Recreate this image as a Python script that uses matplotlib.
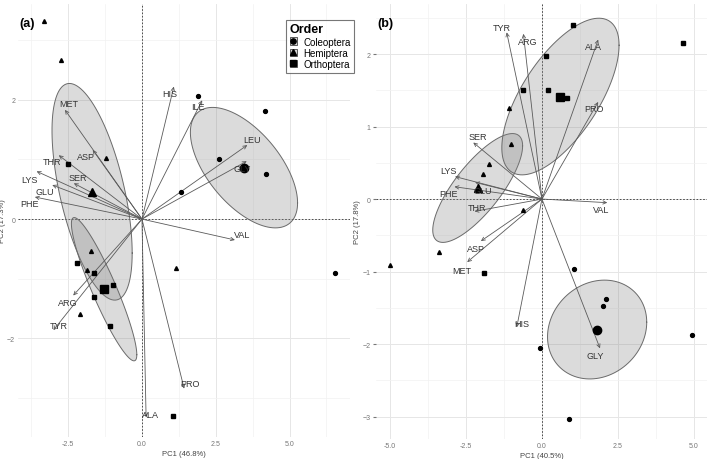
import numpy as np
import matplotlib
matplotlib.use("Agg")
import matplotlib.pyplot as plt
from matplotlib.lines import Line2D
from matplotlib.patches import Rectangle
from matplotlib.legend_handler import HandlerTuple

plt.rcParams["font.family"] = ["Liberation Sans", "DejaVu Sans"]

# --- data ---

orders = ["Coleoptera", "Hemiptera", "Orthoptera"]

# (a) sample scores per order
a_cole_x = [1.90, 4.17, 2.61, 4.20, 1.32, 6.54]
a_cole_y = [2.06, 1.81, 1.00, 0.75, 0.45, -0.90]
a_hemi_x = [-3.32, -2.75, -1.22, 1.15, -1.73, -1.86, -2.10]
a_hemi_y = [3.32, 2.66, 1.02, -0.82, -0.54, -0.85, -1.59]
a_orth_x = [-2.51, -2.20, -1.63, -0.98, -1.63, -1.08, 1.05]
a_orth_y = [0.92, -0.74, -0.90, -1.10, -1.31, -1.79, -3.30]

# (a) loadings (arrow tips) and where the names sit
a_vars = ["MET", "ASP", "THR", "LYS", "SER", "GLU", "PHE", "HIS",
          "ILE", "LEU", "GLY", "VAL", "PRO", "ALA", "ARG", "TYR"]
a_tip_x = [-2.61, -1.67, -2.82, -3.57, -2.31, -3.04, -3.63, 1.08,
           2.04, 3.57, 3.55, 3.15, 1.43, 0.14, -2.33, -3.00]
a_tip_y = [1.83, 1.16, 1.07, 0.80, 0.60, 0.57, 0.37, 2.22,
           1.99, 1.24, 0.97, -0.35, -2.84, -3.32, -1.28, -1.86]
a_lab_x = [-2.47, -1.90, -3.06, -3.80, -2.16, -3.29, -3.82, 0.95,
           1.91, 3.72, 3.39, 3.38, 1.63, 0.30, -2.50, -2.81]
a_lab_y = [1.94, 1.04, 0.96, 0.67, 0.70, 0.46, 0.26, 2.11,
           1.89, 1.34, 0.85, -0.25, -2.76, -3.27, -1.40, -1.78]

# (b) sample scores per order
b_cole_x = [1.05, 2.10, 2.00, 4.92, -0.07, 0.89]
b_cole_y = [-0.97, -1.38, -1.48, -1.88, -2.05, -3.04]
b_hemi_x = [-1.09, -1.02, -1.73, -1.93, -0.64, -3.40, -4.99]
b_hemi_y = [1.26, 0.76, 0.49, 0.35, -0.15, -0.73, -0.91]
b_orth_x = [0.13, -0.64, 0.19, 1.03, 4.64, 0.81, -1.90]
b_orth_y = [1.97, 1.50, 1.50, 2.40, 2.15, 1.40, -1.02]

b_vars = ["TYR", "ARG", "ALA", "PRO", "SER", "LYS", "PHE", "GLU",
          "THR", "VAL", "ASP", "MET", "HIS", "GLY"]
b_tip_x = [-1.16, -0.61, 1.85, 1.85, -2.26, -2.86, -2.88, -2.20,
           -2.22, 2.15, -2.01, -2.46, -0.83, 1.91]
b_tip_y = [2.30, 2.28, 2.20, 1.34, 0.78, 0.31, 0.17, 0.23,
           -0.17, -0.05, -0.58, -0.87, -1.77, -2.06]
b_lab_x = [-1.33, -0.47, 1.69, 1.72, -2.10, -3.08, -3.06, -1.96,
           -2.15, 1.96, -2.18, -2.64, -0.67, 1.74]
b_lab_y = [2.37, 2.17, 2.10, 1.25, 0.86, 0.40, 0.08, 0.12,
           -0.11, -0.15, -0.68, -0.98, -1.72, -2.16]

markers = {"Coleoptera": "o", "Hemiptera": "^", "Orthoptera": "s"}
ARROW_C = "#5a5a5a"
TEXT_C = "#333333"


def group_ellipse(x, y, scale=0.95, n=120):
    pts = np.column_stack([x, y])
    mu = pts.mean(axis=0)
    L = np.linalg.cholesky(np.cov(pts, rowvar=False))
    t = np.linspace(0, 2 * np.pi, n)
    e = mu + scale * np.column_stack([np.cos(t), np.sin(t)]) @ L.T
    return e[:, 0], e[:, 1]


def minor_between(ticks, lo, hi):
    step = ticks[1] - ticks[0]
    cand = [ticks[0] - step / 2] + [v + step / 2 for v in ticks]
    return [v for v in cand if lo <= v <= hi]


def biplot(ax, groups, vars_, tx, ty, lx, ly, xlim, ylim, xticks, yticks,
           xlabel, ylabel, tag, ticks):
    for s in ax.spines.values():
        s.set_visible(False)
    ax.set_xticks(xticks)
    ax.set_xticklabels([f"{v:.1f}" for v in xticks])
    ax.set_yticks(yticks)
    ax.set_xticks(minor_between(xticks, *xlim), minor=True)
    ax.set_yticks(minor_between(yticks, *ylim), minor=True)
    ax.set_xlim(*xlim)
    ax.set_ylim(*ylim)
    ax.grid(True, which="major", color="#e6e6e6", lw=0.7)
    ax.grid(True, which="minor", color="#f2f2f2", lw=0.5)
    ax.set_axisbelow(True)
    ax.tick_params(which="both", labelsize=5, labelcolor="#777777", length=0, pad=2)
    if ticks:
        ax.tick_params(axis="y", which="major", length=2, color="#777777")
    ax.set_xlabel(xlabel, fontsize=5.5, color="#444444", labelpad=2)
    ax.set_ylabel(ylabel, fontsize=5.5, color="#444444", labelpad=1)

    ax.axhline(0, color="#333333", lw=0.6, ls=(0, (2, 2)), zorder=1)
    ax.axvline(0, color="#333333", lw=0.6, ls=(0, (2, 2)), zorder=1)

    for name, (gx, gy) in groups.items():
        ex, ey = group_ellipse(gx, gy)
        ax.fill(ex, ey, facecolor="#7f7f7f", alpha=0.28, lw=0, zorder=2)
        ax.plot(ex, ey, color="#6a6a6a", lw=0.7, zorder=2)

    for x, y in zip(tx, ty):
        ax.annotate("", xy=(x, y), xytext=(0, 0),
                    arrowprops=dict(arrowstyle="->,head_length=0.25,head_width=0.12",
                                    color=ARROW_C, lw=0.6, shrinkA=0, shrinkB=0),
                    zorder=3)

    for name, (gx, gy) in groups.items():
        m = markers[name]
        ax.plot(gx, gy, ls="none", marker=m, ms=2.8, color="black", zorder=4)
        ax.plot(np.mean(gx), np.mean(gy), ls="none", marker=m, ms=6, color="black", zorder=4)

    for v, x, y in zip(vars_, lx, ly):
        ax.text(x, y, v, fontsize=6.5, color=TEXT_C, ha="center", va="center", zorder=5)

    ax.text(0.005, 0.97, tag, transform=ax.transAxes, fontsize=9, fontweight="bold",
            ha="left", va="top")


fig = plt.figure(figsize=(7.09, 4.6), dpi=100)
ax_a = fig.add_axes([0.0254, 0.0478, 0.4683, 0.941])
ax_b = fig.add_axes([0.5303, 0.0435, 0.4669, 0.9455])

biplot(ax_a,
       {"Coleoptera": (a_cole_x, a_cole_y), "Hemiptera": (a_hemi_x, a_hemi_y),
        "Orthoptera": (a_orth_x, a_orth_y)},
       a_vars, a_tip_x, a_tip_y, a_lab_x, a_lab_y,
       (-4.2, 7.05), (-3.65, 3.6), [-2.5, 0.0, 2.5, 5.0], [-2, 0, 2],
       "PC1 (46.8%)", "PC2 (17.3%)", "(a)", False)

biplot(ax_b,
       {"Coleoptera": (b_cole_x, b_cole_y), "Hemiptera": (b_hemi_x, b_hemi_y),
        "Orthoptera": (b_orth_x, b_orth_y)},
       b_vars, b_tip_x, b_tip_y, b_lab_x, b_lab_y,
       (-5.46, 5.43), (-3.31, 2.69), [-5.0, -2.5, 0.0, 2.5, 5.0], [-3, -2, -1, 0, 1, 2],
       "PC1 (40.5%)", "PC2 (17.8%)", "(b)", True)

handles = []
for name in orders:
    bg = Rectangle((0, 0), 1, 1, facecolor="#d9d9d9", edgecolor="#444444", lw=0.6)
    mk = Line2D([], [], ls="none", marker=markers[name], ms=3.8, color="black")
    handles.append((bg, mk))
leg = fig.legend(handles, orders, loc="upper left", bbox_to_anchor=(0.396, 0.966),
                 title="Order", fontsize=7, title_fontproperties={"size": 9, "weight": "bold"},
                 handler_map={tuple: HandlerTuple(ndivide=1)},
                 handlelength=0.8, handleheight=0.8, handletextpad=0.6,
                 labelspacing=0.12, borderpad=0.4, frameon=True, fancybox=False,
                 alignment="left")
leg.get_frame().set_edgecolor("#555555")
leg.get_frame().set_linewidth(0.8)

fig.savefig("out.png", dpi=100)
